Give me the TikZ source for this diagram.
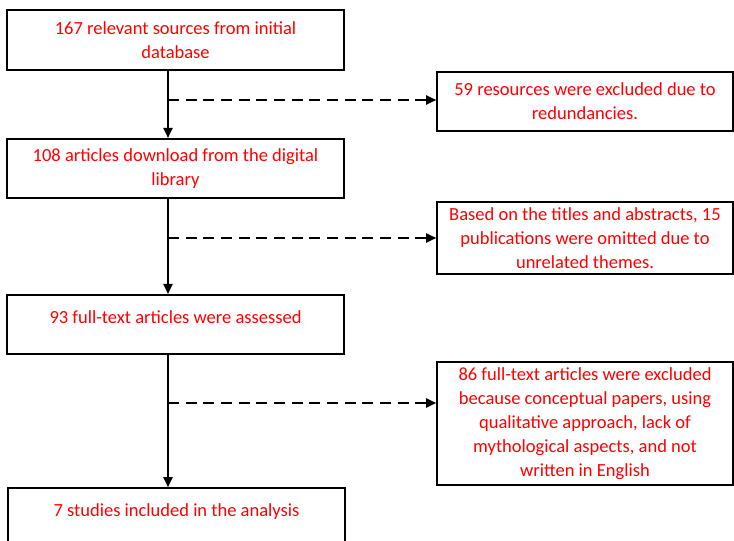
\documentclass[tikz,border=0pt]{standalone}
\usepackage{fontspec}
\setmainfont{Carlito}
\usepackage{tikz}
\usetikzlibrary{arrows.meta}

\tikzset{
    mainbox/.style={draw, line width=1pt, minimum width=202.2pt, minimum height=35.7pt,
        text=red, align=center, inner sep=0pt},
    sidebox/.style={draw, line width=1pt, minimum width=177.6pt,
        text=red, align=center, inner sep=0pt},
    oneline/.style={text depth=9pt},
    flow/.style={line width=0.9pt, -{Triangle[length=6pt,width=5.5pt]}},
    skip/.style={line width=0.9pt, dash pattern=on 6.6pt off 4pt, -{Triangle[length=6pt,width=5.5pt]}}
}

\begin{document}
\begin{tikzpicture}[x=0.6pt, y=-0.6pt, font=\fontsize{11.1}{14.5}\selectfont]
        \useasboundingbox (0,0) rectangle (734,541);

        \node[mainbox] (b1) at (175.5,40) {167 relevant sources from initial\\database};
        \node[mainbox] (b2) at (175.5,168.5) {108 articles download from the digital\\library};
        \node[mainbox, oneline] (b3) at (175.5,324.5) {93 full-text articles were assessed};
        \node[mainbox, oneline, minimum height=36pt] (b4) at (176.5,518) {7 studies included in the analysis};

        \node[sidebox, minimum height=35.4pt] (r1) at (585,101.5) {59 resources were excluded due to\\redundancies.};
        \node[sidebox, minimum height=43.2pt] (r2) at (585,238) {Based on the titles and abstracts, 15\\publications were omitted due to\\unrelated themes.};
        \node[sidebox, minimum height=73.8pt] (r3) at (585,423.5) {86 full-text articles were excluded\\because conceptual papers, using\\qualitative approach, lack of\\mythological aspects, and not\\written in English};

        \coordinate (d1) at (168,100);
        \coordinate (d2) at (168,238);
        \coordinate (d3) at (168,403);

        \draw[flow] (b1.south -| d1) -- (b2.north -| d1);
        \draw[flow] (b2.south -| d2) -- (b3.north -| d2);
        \draw[flow] (b3.south -| d3) -- (b4.north -| d3);

        \draw[skip] (d1) -- (d1 -| r1.west);
        \draw[skip] (d2) -- (d2 -| r2.west);
        \draw[skip] (d3) -- (d3 -| r3.west);
    \end{tikzpicture}
\end{document}
